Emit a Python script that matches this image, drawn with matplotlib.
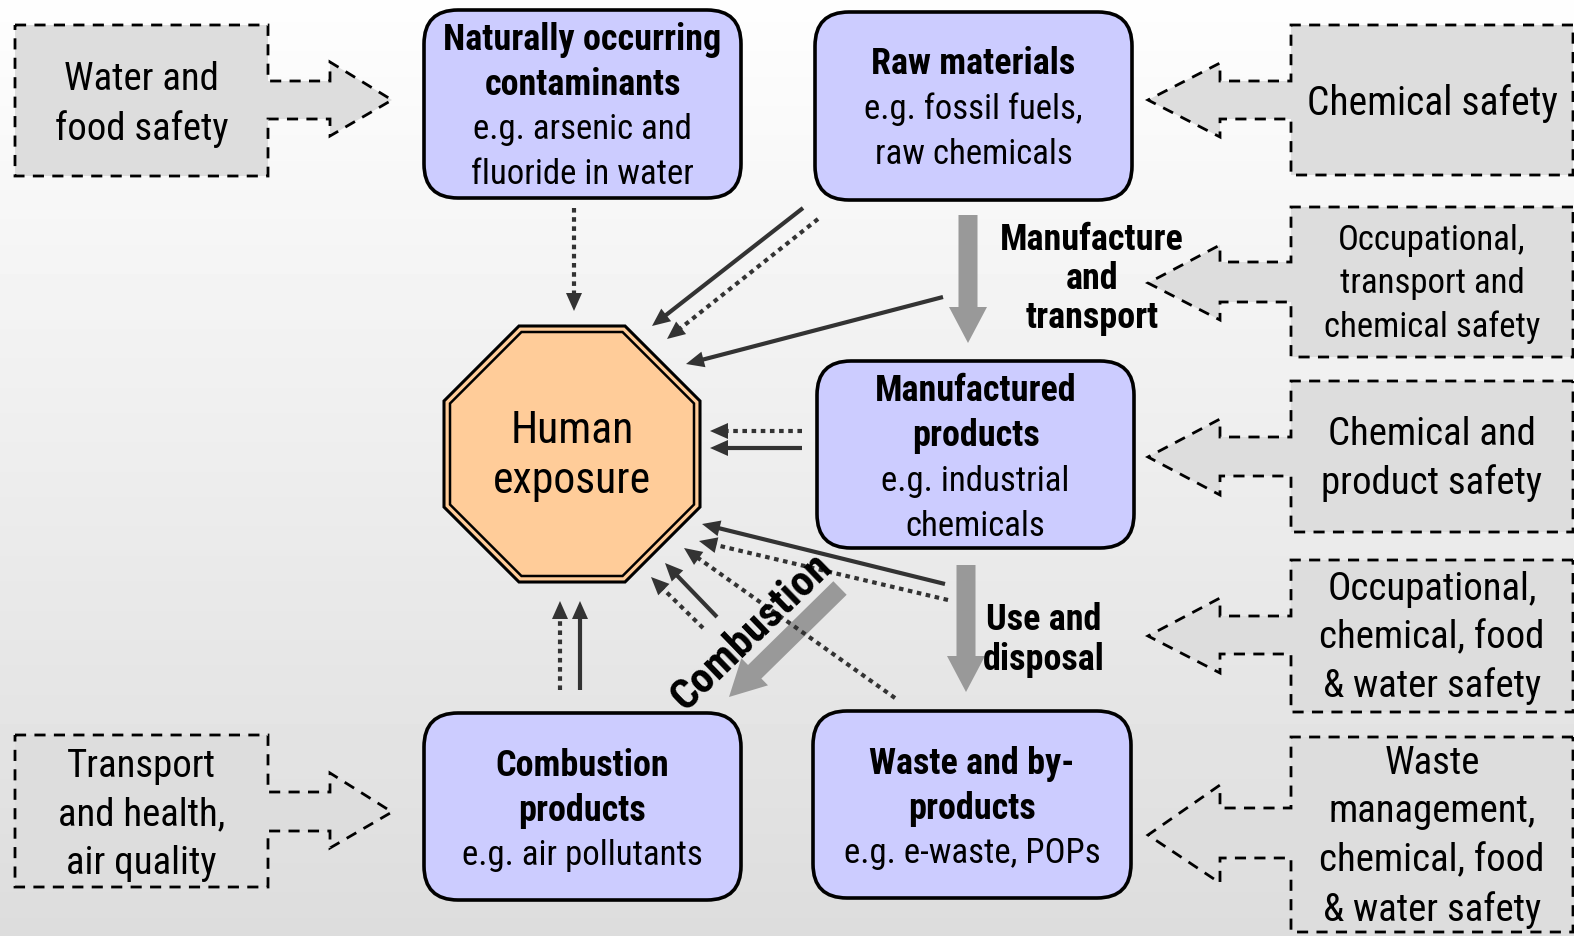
import numpy as np
import matplotlib
matplotlib.use("Agg")
import matplotlib.pyplot as plt
from matplotlib.patches import FancyBboxPatch, Polygon, FancyArrow

plt.rcParams["font.family"] = ["Roboto Condensed", "DejaVu Sans"]

W, H = 1574, 936

# Text content ------------------------------------------------------------------
main_titles = [
    ["Naturally occurring", "contaminants"],
    ["Raw materials"],
    ["Manufactured", "products"],
    ["Combustion", "products"],
    ["Waste and by-", "products"],
]
main_examples = [
    ["e.g. arsenic and", "fluoride in water"],
    ["e.g. fossil fuels,", "raw chemicals"],
    ["e.g. industrial", "chemicals"],
    ["e.g. air pollutants"],
    ["e.g. e-waste, POPs"],
]
policy_left = ["Water and\nfood safety", "Transport\nand health,\nair quality"]
policy_right = [
    "Chemical safety",
    "Occupational,\ntransport and\nchemical safety",
    "Chemical and\nproduct safety",
    "Occupational,\nchemical, food\n& water safety",
    "Waste\nmanagement,\nchemical, food\n& water safety",
]
flow_labels = ["Manufacture\nand\ntransport", "Use and\ndisposal", "Combustion"]
centre_label = "Human\nexposure"

# Layout --------------------------------------------------------------------------
main_boxes = [  # x0, y0, x1, y1
    (424, 10, 741, 198),
    (815, 12, 1132, 200),
    (817, 361, 1134, 548),
    (424, 713, 741, 900),
    (813, 711, 1131, 898),
]
main_first_line = [40, 64, 391, 766, 764]

# dashed callouts: box (x0, y0, x1, y1), shaft (top, bottom), head (top, bottom), tip y
left_callouts = [
    ((15, 25, 268, 176), (81, 119), (62, 136), 100),
    ((15, 735, 268, 887), (792, 831), (773, 848), 812),
]
right_callouts = [
    ((1291, 25, 1573, 175), (81, 119), (63, 137), 100),
    ((1291, 207, 1573, 357), (262, 302), (245, 320), 283),
    ((1291, 381, 1573, 532), (437, 476), (419, 495), 457),
    ((1291, 560, 1573, 712), (616, 654), (598, 673), 636),
    ((1291, 737, 1573, 932), (808, 858), (785, 883), 835),
]
right_size = [28.5, 25, 28, 28, 28]
right_text_y = [103, 284, 459, 638, 837]
right_spacing = [1.38, 1.38, 1.38, 1.38, 1.41]

# exposure pathways: (x0, y0, x1, y1, dotted)
pathways = [
    (574, 208, 574, 311, True),
    (803, 208, 652, 326, False),
    (818, 219, 667, 339, True),
    (943, 297, 686, 364, False),
    (802, 431, 710, 431, True),
    (802, 448, 710, 448, False),
    (945, 584, 702, 524, False),
    (948, 600, 699, 541, True),
    (895, 698, 684, 548, True),
    (717, 617, 665, 563, False),
    (703, 628, 651, 577, True),
    (560, 690, 560, 601, True),
    (580, 690, 580, 601, False),
]

# Figure --------------------------------------------------------------------------
fig = plt.figure(figsize=(W / 100, H / 100), dpi=100)
ax = fig.add_axes([0, 0, 1, 1])
ax.set_xlim(0, W)
ax.set_ylim(H, 0)
ax.axis("off")

grad = np.linspace(0.995, 0.865, 256)[:, None]
ax.imshow(grad, cmap="gray", vmin=0, vmax=1, extent=[0, W, H, 0], aspect="auto", zorder=0)

# main boxes
for (x0, y0, x1, y1), titles, examples, ly in zip(main_boxes, main_titles, main_examples, main_first_line):
    ax.add_patch(FancyBboxPatch((x0, y0), x1 - x0, y1 - y0,
                                boxstyle="round,pad=0,rounding_size=34",
                                fc="#CCCCFF", ec="black", lw=2.6, zorder=2))
    cx = (x0 + x1) / 2
    for i, t in enumerate(titles + examples):
        bold = i < len(titles)
        ax.text(cx, ly + 45 * i, t, ha="center", va="center",
                fontsize=26 if bold else 25, fontweight="bold" if bold else "normal", zorder=3)


def callout(box, shaft, head, tip_y, side):
    x0, y0, x1, y1 = box
    if side == "left":
        base, tip = x1 + 62, x1 + 124
        pts = [(x0, y0), (x1, y0), (x1, shaft[0]), (base, shaft[0]), (base, head[0]),
               (tip, tip_y), (base, head[1]), (base, shaft[1]), (x1, shaft[1]), (x1, y1), (x0, y1)]
    else:
        base, tip = x0 - 71, x0 - 143
        pts = [(x1, y0), (x0, y0), (x0, shaft[0]), (base, shaft[0]), (base, head[0]),
               (tip, tip_y), (base, head[1]), (base, shaft[1]), (x0, shaft[1]), (x0, y1), (x1, y1)]
    ax.add_patch(Polygon(pts, closed=True, fc="#DDDDDD", ec="black", lw=2,
                         ls=(0, (4, 3)), zorder=2))


for (box, shaft, head, ty), label in zip(left_callouts, policy_left):
    callout(box, shaft, head, ty, "left")
    ax.text((box[0] + box[2]) / 2, (box[1] + box[3]) / 2 + 4, label, ha="center", va="center",
            fontsize=28, linespacing=1.38, zorder=3)

for (box, shaft, head, ty), label, fs, ty_txt, sp in zip(right_callouts, policy_right, right_size,
                                                        right_text_y, right_spacing):
    callout(box, shaft, head, ty, "right")
    ax.text(1432, ty_txt, label, ha="center", va="center",
            fontsize=fs, linespacing=sp, zorder=3)

# human exposure octagon
cx, cy = 572, 454
ang = np.deg2rad(22.5 + 45 * np.arange(8))
for half, lw, fill in [(128, 2.2, True), (122, 1.8, False)]:
    r = half / np.cos(np.deg2rad(22.5))
    pts = np.column_stack([cx + r * np.cos(ang), cy + r * np.sin(ang)])
    ax.add_patch(Polygon(pts, closed=True, fc="#FFCC99" if fill else "none",
                         ec="black", lw=lw, zorder=2))
ax.text(cx, cy + 2, centre_label, ha="center", va="center", fontsize=31.5,
        linespacing=1.22, zorder=3)

# big grey flow arrows
for x0, y0, x1, y1 in [(968, 215, 968, 343), (966, 565, 966, 692), (840, 588, 729, 697)]:
    ax.add_patch(FancyArrow(x0, y0, x1 - x0, y1 - y0, width=19, head_width=38,
                            head_length=36, length_includes_head=True,
                            fc="#999999", ec="none", zorder=2))

ax.text(1092, 279, flow_labels[0], ha="center", va="center", fontsize=26,
        fontweight="bold", linespacing=1.12, zorder=3)
ax.text(1044, 640, flow_labels[1], ha="center", va="center", fontsize=26,
        fontweight="bold", linespacing=1.12, zorder=3)
ax.text(751, 632, flow_labels[2], ha="center", va="center", fontsize=31,
        fontweight="bold", rotation=44, rotation_mode="anchor", zorder=4)


# thin exposure arrows
def pathway(x0, y0, x1, y1, dotted):
    d = np.array([x1 - x0, y1 - y0], float)
    L = np.hypot(*d)
    u = d / L
    n = np.array([-u[1], u[0]])
    hl, hw = 18, 8
    bx, by = x1 - u[0] * hl, y1 - u[1] * hl
    ax.plot([x0, bx + u[0] * 2], [y0, by + u[1] * 2], color="#333333", lw=3,
            ls=(0, (1.1, 1.1)) if dotted else "-", solid_capstyle="butt",
            dash_capstyle="butt", zorder=3)
    head = [(x1, y1), (bx + n[0] * hw, by + n[1] * hw), (bx - n[0] * hw, by - n[1] * hw)]
    ax.add_patch(Polygon(head, closed=True, fc="#333333", ec="none", zorder=3))


for p in pathways:
    pathway(*p)

fig.savefig("out.png", dpi=100)
